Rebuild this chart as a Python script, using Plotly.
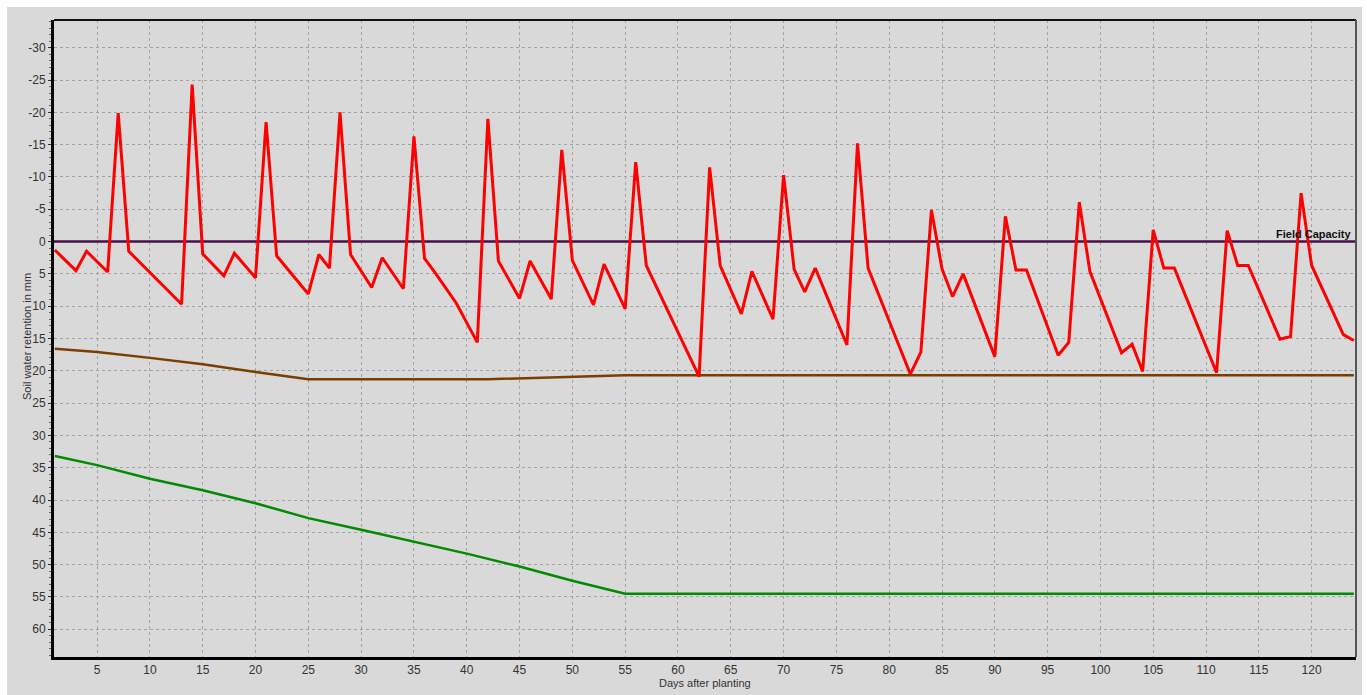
import plotly.graph_objects as go

# ---- data ----
red_days = [1, 3, 4, 6, 7, 8, 13, 14, 15, 17, 18, 20, 21, 22, 25, 26, 27, 28, 29,
            31, 32, 34, 35, 36, 37, 39, 41, 42, 43, 45, 46, 48, 49, 50, 52, 53, 55,
            56, 57, 62, 63, 64, 66, 67, 69, 70, 71, 72, 73, 76, 77, 78, 82, 83, 84,
            85, 86, 87, 90, 91, 92, 93, 96, 97, 98, 99, 102, 103, 104, 105, 106, 107,
            111, 112, 113, 114, 117, 118, 119, 120, 123, 124]
red_vals = [1.3, 4.5, 1.5, 4.7, -19.9, 1.5, 9.7, -24.3, 1.9, 5.3, 1.8, 5.6, -18.5, 2.2,
            8.1, 2.0, 4.1, -20.0, 2.0, 7.1, 2.5, 7.3, -16.3, 2.6, 4.8, 9.5, 15.6, -19.0,
            3.0, 8.8, 3.0, 8.9, -14.2, 2.9, 9.8, 3.5, 10.4, -12.3, 3.7, 20.9, -11.5,
            3.7, 11.2, 4.6, 12.0, -10.3, 4.3, 7.8, 4.1, 16.0, -15.2, 4.1, 20.5, 17.1,
            -4.9, 4.2, 8.5, 5.0, 17.8, -3.9, 4.4, 4.4, 17.6, 15.6, -6.1, 4.6, 17.2, 15.9,
            20.1, -1.8, 4.1, 4.1, 20.3, -1.7, 3.7, 3.7, 15.1, 14.7, -7.5, 3.7, 14.4, 15.3]

brown_days = [1, 5, 10, 15, 20, 25, 42, 48, 55, 124]
brown_vals = [16.6, 17.1, 18.0, 19.0, 20.2, 21.3, 21.3, 21.0, 20.7, 20.7]

green_days = [1, 5, 10, 15, 20, 25, 30, 35, 40, 45, 50, 55, 124]
green_vals = [33.2, 34.6, 36.7, 38.5, 40.5, 42.8, 44.6, 46.4, 48.3, 50.3, 52.5, 54.5, 54.5]

fc_days = [0.9, 124.2]
fc_vals = [0, 0]

x_ticks = list(range(5, 121, 5))
y_ticks = list(range(-30, 61, 5))

# ---- layout constants ----
W, H = 1367, 695
ML, MR, MT, MB = 54, 11, 20, 38
PW, PH = W - ML - MR, H - MT - MB
BG = "#d9d9d9"
GRID = "#a3a3a3"
FONT_FAMILY = "Liberation Sans, Arial"


def px_x(p):
    return (p - ML) / PW


def px_y(p):
    return 1 - (p - MT) / PH


fig = go.Figure()
fig.add_trace(go.Scatter(x=green_days, y=green_vals, mode="lines",
                         line=dict(color="#008a00", width=2.5), hoverinfo="skip"))
fig.add_trace(go.Scatter(x=brown_days, y=brown_vals, mode="lines",
                         line=dict(color="#7a3f00", width=2.5), hoverinfo="skip"))
fig.add_trace(go.Scatter(x=fc_days, y=fc_vals, mode="lines",
                         line=dict(color="#4a0f4a", width=2.5), hoverinfo="skip"))
fig.add_trace(go.Scatter(x=red_days, y=red_vals, mode="lines",
                         line=dict(color="#ff0000", width=3), hoverinfo="skip"))

fig.add_annotation(x=1, xref="paper", y=0, yref="y", text="<b>Field Capacity</b>",
                   showarrow=False, xanchor="right", yanchor="bottom", xshift=-3, yshift=0,
                   font=dict(family=FONT_FAMILY, size=11, color="#111"))
fig.add_annotation(x=px_x(27), xref="paper", y=px_y(337), yref="paper",
                   text="Soil water retention in mm", textangle=-90, showarrow=False,
                   xanchor="center", yanchor="middle",
                   font=dict(family=FONT_FAMILY, size=11, color="#333"))
fig.add_annotation(x=px_x(705), xref="paper", y=px_y(683), yref="paper",
                   text="Days after planting", showarrow=False,
                   xanchor="center", yanchor="middle",
                   font=dict(family=FONT_FAMILY, size=11, color="#333"))

shapes = [
    # top and right frame
    dict(type="line", xref="paper", yref="paper", x0=0, x1=1, y0=1, y1=1,
         line=dict(color="#111", width=2)),
    dict(type="line", xref="paper", yref="paper", x0=1, x1=1, y0=0, y1=1,
         line=dict(color="#555", width=2)),
    # white strips at the picture edges
    dict(type="rect", xref="paper", yref="paper", x0=px_x(0), x1=px_x(7), y0=px_y(H), y1=px_y(0),
         fillcolor="white", line=dict(width=0)),
    dict(type="rect", xref="paper", yref="paper", x0=px_x(0), x1=px_x(W), y0=px_y(7), y1=px_y(0),
         fillcolor="white", line=dict(width=0)),
    dict(type="rect", xref="paper", yref="paper", x0=px_x(1362), x1=px_x(W), y0=px_y(H), y1=px_y(0),
         fillcolor="white", line=dict(width=0)),
]

font = dict(family=FONT_FAMILY, size=12, color="#333")

fig.update_layout(
    width=W, height=H,
    margin=dict(l=ML, r=MR, t=MT, b=MB, pad=0, autoexpand=False),
    paper_bgcolor=BG, plot_bgcolor=BG,
    showlegend=False,
    shapes=shapes,
    font=font,
    xaxis=dict(range=[0.92, 124.2], tickvals=x_ticks, ticktext=[str(v) for v in x_ticks],
               showgrid=True, gridcolor=GRID, griddash="dot", gridwidth=1,
               showline=True, linecolor="#000", linewidth=3, zeroline=False,
               ticks="", ticklen=0, tickfont=font, automargin=False),
    yaxis=dict(range=[64.3, -34.3], tickvals=y_ticks, ticktext=[str(v) for v in y_ticks],
               showgrid=True, gridcolor=GRID, griddash="dot", gridwidth=1,
               showline=True, linecolor="#000", linewidth=3, zeroline=False,
               ticks="outside", ticklen=3, tickcolor="#333", tickwidth=1,
               minor=dict(dtick=1, ticks="outside", ticklen=2, tickcolor="#666", showgrid=False),
               tickfont=font, automargin=False),
)

fig.write_html("out.html")
